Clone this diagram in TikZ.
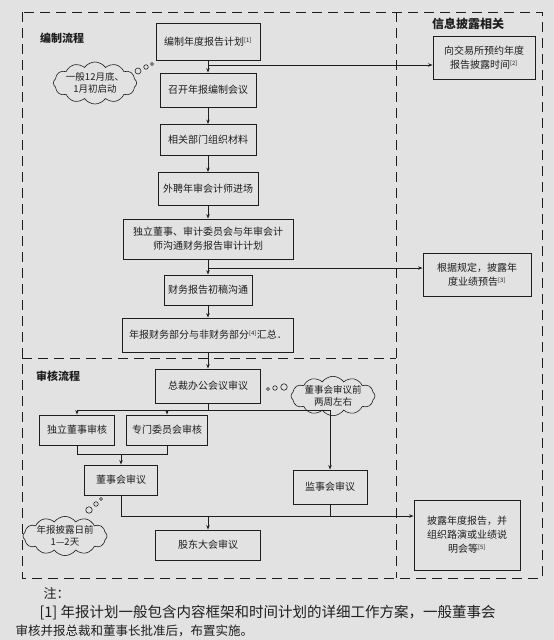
\documentclass[tikz,border=0pt]{standalone}
\usepackage{fontspec}
\setmainfont{Noto Sans CJK SC}
\usetikzlibrary{shapes.symbols,arrows.meta}
\definecolor{paper}{RGB}{226,226,226}
\definecolor{ink}{RGB}{30,30,30}
\newcommand\fnref[1]{\textsuperscript{\fontsize{6}{6}\selectfont[#1]}}
\tikzset{
  box/.style={draw=ink, line width=0.9pt, fill=paper, align=center, text=ink,
    font=\fontsize{10}{14}\selectfont, inner sep=2pt},
  flow/.style={draw=ink, line width=0.7pt, -{Stealth[length=4.5pt,width=3.4pt]}},
  link/.style={draw=ink, line width=0.7pt},
  frame/.style={draw=ink, line width=1pt, dash pattern=on 10pt off 6pt},
  thought/.style={cloud, cloud puffs=12, cloud puff arc=110, cloud ignores aspect,
    draw=ink, line width=0.6pt, fill=paper, align=center, text=ink,
    font=\fontsize{9.5}{12}\selectfont, inner sep=0pt},
  bubble/.style={circle, draw=ink, line width=0.6pt, inner sep=0pt, fill=paper},
  sec/.style={font=\fontsize{11}{13}\selectfont\bfseries, text=ink},
  note/.style={anchor=base west, text=ink, font=\fontsize{13}{15}\selectfont}
}
\begin{document}
\begin{tikzpicture}[x=1pt,y=-1pt]
\useasboundingbox[fill=paper] (0,0) rectangle (554,640);
% frames
\draw[frame] (22,12) rectangle (542,578);
\draw[frame] (396,12) -- (396,578);
\draw[frame] (22,358) -- (396,358);
% section titles
\node[sec] (t1) at (62,38) {编制流程};
\node[sec] (t2) at (58,376) {审核流程};
\node[sec, font=\fontsize{12}{14}\selectfont\bfseries] (t3) at (468,24) {信息披露相关};
% compile flow
\node[box, minimum width=104pt, minimum height=37pt] (plan) at (208,42) {编制年度报告计划\fnref{1}};
\node[box, minimum width=96pt, minimum height=34pt] (meet) at (208,90) {召开年报编制会议};
\node[box, minimum width=96pt, minimum height=31pt] (mat) at (208,140) {相关部门组织材料};
\node[box, minimum width=100pt, minimum height=33pt] (aud) at (208,189) {外聘年审会计师进场};
\node[box, minimum width=170pt, minimum height=40pt] (comm) at (208,239) {独立董事、审计委员会与年审会计\\师沟通财务报告审计计划};
\node[box, minimum width=88pt, minimum height=30pt] (draft) at (208,290) {财务报告初稿沟通};
\node[box, minimum width=171pt, minimum height=34pt] (sum) at (208,335) {年报财务部分与非财务部分\fnref{4}汇总．};
% review flow
\node[box, minimum width=105pt, minimum height=34pt] (ceo) at (208,386) {总裁办公会议审议};
\node[box, minimum width=75pt, minimum height=30pt] (indep) at (77,430) {独立董事审核};
\node[box, minimum width=81pt, minimum height=30pt] (spec) at (167,430) {专门委员会审核};
\node[box, minimum width=73pt, minimum height=30pt] (board) at (121,480) {董事会审议};
\node[box, minimum width=74pt, minimum height=34pt] (super) at (330,487) {监事会审议};
\node[box, minimum width=105pt, minimum height=30pt] (share) at (208,545) {股东大会审议};
% disclosure
\node[box, minimum width=102pt, minimum height=43pt] (ex1) at (484,58) {向交易所预约年度\\报告披露时间\fnref{2}};
\node[box, minimum width=108pt, minimum height=43pt] (ex2) at (477,275) {根据规定，披露年\\度业绩预告\fnref{3}};
\node[box, minimum width=106pt, minimum height=70pt] (ex3) at (467,535) {披露年度报告，并\\组织路演或业绩说\\明会等\fnref{5}};
% clouds
\node[thought, minimum width=80pt, minimum height=42pt] (cl1) at (95,83) {一般12月底、\\1月初启动};
\node[bubble, minimum size=6pt] (b11) at (138,71) {};
\node[bubble, minimum size=4.5pt] (b12) at (146,67) {};
\node[bubble, minimum size=3pt] (b13) at (152,64) {};
\node[thought, minimum width=84pt, minimum height=38pt] (cl2) at (333,396) {董事会审议前\\两周左右};
\node[bubble, minimum size=6.5pt] (b21) at (284,387) {};
\node[bubble, minimum size=4.5pt] (b22) at (275,388) {};
\node[bubble, minimum size=3pt] (b23) at (268,389) {};
\node[thought, minimum width=84pt, minimum height=38pt] (cl3) at (65,536) {年报披露日前\\1—2天};
\node[bubble, minimum size=6.5pt] (b31) at (89,510) {};
\node[bubble, minimum size=4.5pt] (b32) at (96,504) {};
\node[bubble, minimum size=3pt] (b33) at (101,499) {};
% compile connectors
\draw[flow] (plan) -- (meet);
\draw[flow] (meet) -- (mat);
\draw[flow] (mat) -- (aud);
\draw[flow] (aud) -- (comm);
\draw[flow] (comm) -- (draft);
\draw[flow] (draft) -- (sum);
\draw[flow] (sum) -- (ceo);
\coordinate (j1) at (208,65);
\draw[flow] (j1) -- (j1 -| ex1.west);
\coordinate (j2) at (208,268);
\draw[flow] (j2) -- (j2 -| ex2.west);
% review connectors
\coordinate (j3) at (208,410);
\coordinate (jl) at (77,410);
\coordinate (jm) at (167,410);
\coordinate (jr) at (330,410);
\draw[link] (ceo) -- (j3);
\draw[link] (jl) -- (jr);
\draw[flow] (jl) -- (indep);
\draw[flow] (jm) -- (spec);
\draw[flow] (jr) -- (super);
\coordinate (k1) at (77,454);
\coordinate (k2) at (167,454);
\coordinate (k3) at (121,454);
\draw[link] (indep) -- (k1) -- (k2) -- (spec);
\draw[flow] (k3) -- (board);
\coordinate (m1) at (121,516);
\coordinate (m2) at (208,516);
\coordinate (m3) at (330,516);
\draw[link] (board) -- (m1);
\draw[flow] (m1) -- (m1 -| ex3.west);
\draw[flow] (m2) -- (share);
\draw[link] (super) -- (m3);
% notes
\node[note] (n0) at (40,598) {注：};
\node[note, font=\fontsize{14.5}{16}\selectfont] (n1) at (36,617) {[1]\ 年报计划一般包含内容框架和时间计划的详细工作方案，一般董事会};
\node[note, font=\fontsize{12.5}{15}\selectfont] (n2) at (12,635) {审核并报总裁和董事长批准后，布置实施。};
\end{tikzpicture}
\end{document}
